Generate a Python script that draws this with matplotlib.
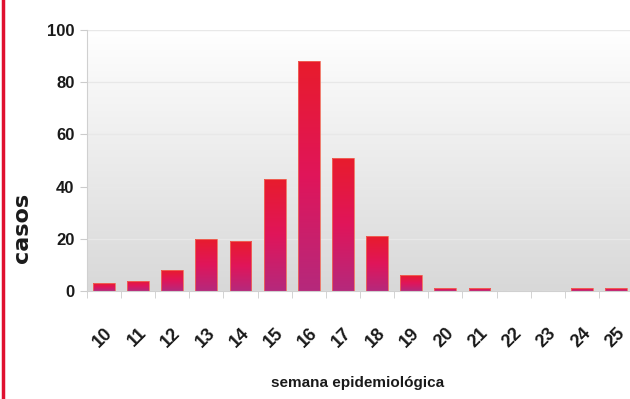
import numpy as np
import matplotlib
matplotlib.use("Agg")
import matplotlib.pyplot as plt
from matplotlib.colors import LinearSegmentedColormap
from matplotlib.lines import Line2D

semanas = ["10", "11", "12", "13", "14", "15", "16", "17",
           "18", "19", "20", "21", "22", "23", "24", "25"]
casos = [3, 4, 8, 20, 19, 43, 88, 51, 21, 6, 1, 1, 0, 0, 1, 1]
yticks = [0, 20, 40, 60, 80, 100]

plt.rcParams["font.family"] = ["Liberation Sans Narrow", "Liberation Sans", "DejaVu Sans"]

fig = plt.figure(figsize=(6.3, 3.99), dpi=100)
ax = fig.add_axes([0.138, 0.2707, 0.867, 0.654])

x = np.arange(len(semanas))
ax.set_xlim(-0.5, len(semanas) - 0.5)
ax.set_ylim(0, 100)

# background gradient white (top) -> light grey (bottom)
bg = np.linspace(0, 1, 256).reshape(-1, 1)
bg_cmap = LinearSegmentedColormap.from_list("bg", ["#ffffff", "#d8d8d8"])
ax.imshow(bg, cmap=bg_cmap, extent=(-0.5, len(semanas) - 0.5, 0, 100),
          aspect="auto", zorder=0, origin="upper")

bar_cmap = LinearSegmentedColormap.from_list(
    "bar", ["#e81c2c", "#e0155a", "#b5297c"])
grad = np.linspace(0, 1, 256).reshape(-1, 1)

bars = ax.bar(x, casos, width=0.64, color="none", edgecolor="none", zorder=2)
for b in bars:
    h = b.get_height()
    if h <= 0:
        continue
    x0 = b.get_x()
    w = b.get_width()
    im = ax.imshow(grad, cmap=bar_cmap, extent=(x0, x0 + w, 0, h),
                   aspect="auto", zorder=2, origin="upper")
    im.set_clip_path(b)
    ax.add_patch(plt.Rectangle((x0, 0), w, h, fill=False,
                               edgecolor="#f06a5a", linewidth=0.6, zorder=3))

ax.set_xlim(-0.5, len(semanas) - 0.5)
ax.set_ylim(0, 100)

ax.set_yticks(yticks)
ax.set_yticklabels([str(t) for t in yticks], fontsize=12, fontweight="bold",
                   color="#1a1a1a")
ax.yaxis.grid(True, color="#e8e8e8", linewidth=1)
ax.set_axisbelow(True)

ax.set_xticks(x)
ax.set_xticklabels(semanas, rotation=45, ha="right", rotation_mode="anchor",
                   fontsize=13, fontweight="bold", color="#1a1a1a")
ax.set_xticks(np.arange(-0.5, len(semanas)), minor=True)
ax.tick_params(axis="x", which="major", length=0, pad=24)
ax.tick_params(axis="x", which="minor", length=5, color="#cccccc")
ax.tick_params(axis="y", length=5, color="#cccccc", pad=4)

for s in ["top", "right"]:
    ax.spines[s].set_visible(False)
ax.spines["left"].set_color("#d0d0d0")
ax.spines["bottom"].set_color("#d0d0d0")

ax.set_ylabel("casos", fontsize=16, fontweight="bold", family="DejaVu Sans",
              color="#1a1a1a")
ax.yaxis.set_label_coords(-0.1, 0.24)
fig.text(0.567, 0.03, "semana epidemiológica", ha="center", fontsize=11,
         fontweight="bold", color="#1a1a1a")

# red line at left edge
fig.add_artist(Line2D([0.004, 0.004], [0, 1], transform=fig.transFigure,
                      color="#e0102f", linewidth=2.5))

fig.savefig("out.png", dpi=100)
